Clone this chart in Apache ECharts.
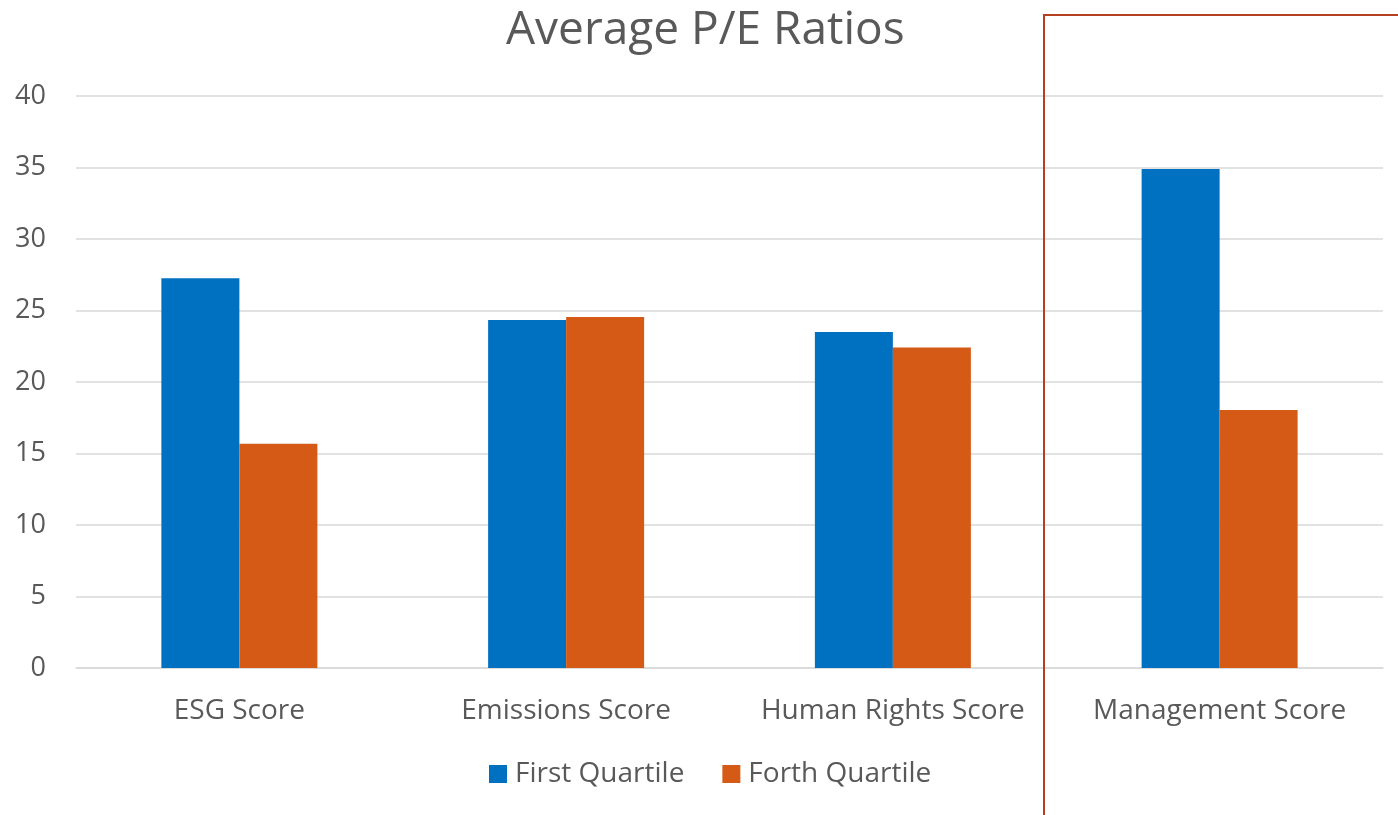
<!DOCTYPE html>
<html>
<head>
<meta charset="utf-8">
<title>Average P/E Ratios</title>
<script src="https://cdn.jsdelivr.net/npm/echarts@6/dist/echarts.min.js"></script>
<style>
  html, body { margin: 0; padding: 0; background: #ffffff; }
  #chart { width: 1398px; height: 815px; }
</style>
</head>
<body>
<div id="chart"></div>
<script>
// Score categories and average P/E ratio per quartile
const categories = ['ESG Score', 'Emissions Score', 'Human Rights Score', 'Management Score'];
const firstQuartile = [27.25, 24.33, 23.49, 34.9];
const forthQuartile = [15.69, 24.54, 22.42, 18.04];
const seriesNames = ['First Quartile', 'Forth Quartile'];
const yTicks = { min: 0, max: 40, interval: 5 };

const FONT = '"Open Sans", "Noto Sans", sans-serif';
const TEXT = '#595959';

const chart = echarts.init(document.getElementById('chart'), null, { renderer: 'canvas' });

chart.setOption({
  animation: false,
  backgroundColor: '#ffffff',
  title: {
    text: 'Average P/E Ratios',
    left: 501,
    top: 3,
    textStyle: { fontFamily: FONT, fontSize: 46, fontWeight: 'normal', color: TEXT }
  },
  legend: {
    data: seriesNames,
    bottom: 27,
    left: 489,
    padding: 0,
    icon: 'rect',
    itemWidth: 18,
    itemHeight: 18,
    itemGap: 38,
    textStyle: { fontFamily: FONT, fontSize: 28, color: TEXT, padding: [0, 0, 0, 3] }
  },
  grid: { left: 76, right: 15, top: 96, bottom: 147, containLabel: false },
  xAxis: {
    type: 'category',
    data: categories,
    axisLine: { show: true, lineStyle: { color: '#d9d9d9', width: 1.5 } },
    axisTick: { show: false },
    axisLabel: { fontFamily: FONT, fontSize: 28, color: TEXT, margin: 29, interval: 0, hideOverlap: false }
  },
  yAxis: {
    type: 'value',
    min: yTicks.min,
    max: yTicks.max,
    interval: yTicks.interval,
    axisLine: { show: false },
    axisTick: { show: false },
    axisLabel: { fontFamily: FONT, fontSize: 27, color: TEXT, margin: 30 },
    splitLine: { lineStyle: { color: '#d9d9d9', width: 1.5 } }
  },
  series: [
    {
      name: seriesNames[0],
      type: 'bar',
      data: firstQuartile,
      barWidth: 78,
      barGap: '0%',
      itemStyle: { color: '#0070c0' }
    },
    {
      name: seriesNames[1],
      type: 'bar',
      data: forthQuartile,
      barWidth: 78,
      barGap: '0%',
      itemStyle: { color: '#d55a16' }
    }
  ],
  graphic: [
    {
      // highlight frame around the Management Score group
      type: 'rect',
      shape: { x: 1044, y: 15, width: 400, height: 900 },
      style: { fill: 'none', stroke: '#b5401f', lineWidth: 2 },
      z: 100
    }
  ]
});
</script>
</body>
</html>
